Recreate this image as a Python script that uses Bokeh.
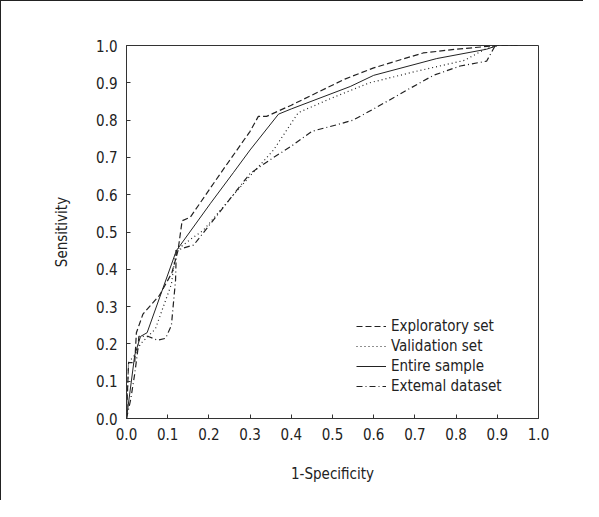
from bokeh.plotting import figure
from bokeh.models import Legend, LegendItem, FixedTicker, Range1d, CustomJSTickFormatter
from bokeh.embed import file_html
from bokeh.resources import INLINE

# Exploratory set (dashed)
expl_x = [0.0, 0.005, 0.02, 0.024, 0.04, 0.08, 0.11, 0.125, 0.135, 0.155, 0.23, 0.3, 0.32, 0.34, 0.4, 0.53, 0.6, 0.72, 0.8, 0.9, 0.95]
expl_y = [0.0, 0.15, 0.15, 0.23, 0.28, 0.33, 0.39, 0.45, 0.53, 0.54, 0.66, 0.77, 0.81, 0.81, 0.84, 0.91, 0.94, 0.98, 0.99, 1.0, 1.0]
# Validation set (dotted)
val_x = [0.0, 0.005, 0.02, 0.034, 0.07, 0.109, 0.12, 0.155, 0.187, 0.26, 0.3, 0.357, 0.417, 0.5, 0.59, 0.7, 0.82, 0.87, 0.9]
val_y = [0.0, 0.15, 0.17, 0.20, 0.24, 0.36, 0.45, 0.48, 0.505, 0.60, 0.65, 0.72, 0.82, 0.86, 0.90, 0.93, 0.96, 0.99, 1.0]
# Entire sample (solid)
ent_x = [0.0, 0.02, 0.034, 0.05, 0.121, 0.204, 0.26, 0.3, 0.369, 0.4, 0.543, 0.6, 0.753, 0.874, 0.9]
ent_y = [0.0, 0.17, 0.22, 0.23, 0.45, 0.577, 0.66, 0.72, 0.816, 0.83, 0.89, 0.92, 0.965, 0.99, 1.0]
# External dataset (dash-dot)
ext_x = [0.0, 0.01, 0.02, 0.027, 0.03, 0.053, 0.075, 0.095, 0.109, 0.119, 0.121, 0.138, 0.163, 0.243, 0.3, 0.357, 0.4, 0.45, 0.519, 0.55, 0.6, 0.68, 0.745, 0.81, 0.874, 0.895, 0.95]
ext_y = [0.0, 0.05, 0.12, 0.18, 0.22, 0.22, 0.21, 0.215, 0.25, 0.37, 0.45, 0.457, 0.465, 0.577, 0.657, 0.70, 0.73, 0.77, 0.79, 0.80, 0.83, 0.88, 0.92, 0.945, 0.958, 1.0, 1.0]

tick_vals = [0.0, 0.1, 0.2, 0.3, 0.4, 0.5, 0.6, 0.7, 0.8, 0.9, 1.0]
series_names = ["Exploratory set", "Validation set", "Entire sample", "Extemal dataset"]

FONT = "DejaVu Sans Condensed, Lato, sans-serif"

p = figure(width=583, height=500, output_backend="svg", toolbar_location=None,
           x_range=Range1d(0, 1), y_range=Range1d(0, 1),
           min_border_left=125, min_border_top=44, min_border_right=46, min_border_bottom=83)
p.styles = {"border-top": "1px solid #222", "border-left": "1px solid #222"}
p.grid.visible = False
p.outline_line_color = "#333"
p.outline_line_width = 1

fmt = CustomJSTickFormatter(code="return tick.toFixed(1);")
for ax in (p.xaxis[0], p.yaxis[0]):
    ax.ticker = FixedTicker(ticks=tick_vals)
    ax.formatter = fmt
    ax.major_tick_in = 4
    ax.major_tick_out = 0
    ax.minor_tick_line_color = None
    ax.axis_line_color = "#333"
    ax.major_tick_line_color = "#333"
    ax.major_label_text_font = FONT
    ax.major_label_text_font_size = "15px"
    ax.major_label_text_color = "#222"
    ax.axis_label_text_font = FONT
    ax.axis_label_text_font_size = "15px"
    ax.axis_label_text_font_style = "normal"
    ax.axis_label_text_color = "#222"

p.xaxis.axis_label = "1-Specificity"
p.yaxis.axis_label = "Sensitivity"
p.xaxis.major_label_standoff = 9
p.yaxis.major_label_standoff = 9
p.xaxis.axis_label_standoff = 22
p.yaxis.axis_label_standoff = 22

r1 = p.line(expl_x, expl_y, line_color="#222", line_width=1.2, line_dash="6 3")
r2 = p.line(val_x, val_y, line_color="#222", line_width=1.2, line_dash="1 3")
r3 = p.line(ent_x, ent_y, line_color="#222", line_width=1.0)
r4 = p.line(ext_x, ext_y, line_color="#222", line_width=1.2, line_dash="6 3 1 3")

legend = Legend(items=[LegendItem(label=series_names[0], renderers=[r1]),
                       LegendItem(label=series_names[1], renderers=[r2]),
                       LegendItem(label=series_names[2], renderers=[r3]),
                       LegendItem(label=series_names[3], renderers=[r4])],
                location=(230, 23))
legend.border_line_color = None
legend.background_fill_alpha = 0
legend.label_text_font = FONT
legend.label_text_font_size = "15px"
legend.label_text_color = "#222"
legend.glyph_width = 30
legend.spacing = 2
legend.label_height = 18
legend.glyph_height = 18
p.add_layout(legend)

open("out.html", "w").write(file_html(p, INLINE))
